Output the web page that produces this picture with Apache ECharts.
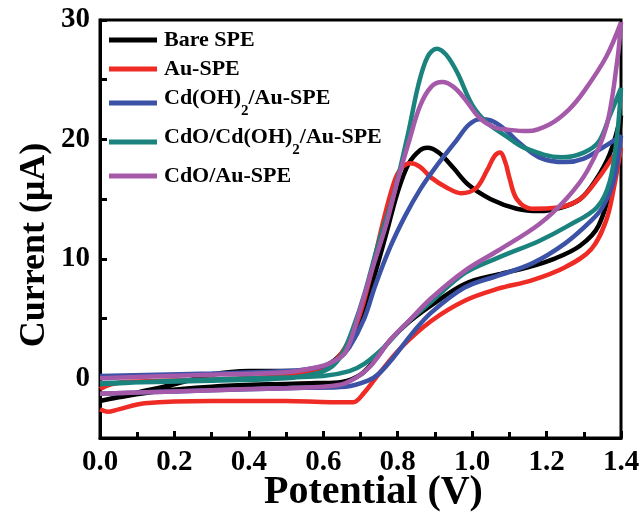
<!DOCTYPE html>
<html>
<head>
<meta charset="utf-8">
<script src="https://cdn.jsdelivr.net/npm/echarts@6/dist/echarts.min.js"></script>
<style>
  html, body { margin: 0; padding: 0; background: #fff; }
  #chart { width: 643px; height: 515px; }
</style>
</head>
<body>
<div id="chart"></div>
<script>
// cyclic voltammograms, each loop as [potential V, current uA]
const bareSPE = [
  [0.00, -1.9], [0.10, -1.2], [0.20, -0.5], [0.30, 0.3], [0.40, 0.6], [0.50, 0.6], [0.58, 0.8],
  [0.63, 1.5], [0.67, 3.0], [0.70, 5.0], [0.73, 7.8], [0.77, 12.2], [0.80, 15.6], [0.83, 18.0],
  [0.86, 19.1], [0.88, 19.3], [0.91, 18.9], [0.95, 17.6], [0.99, 16.2], [1.05, 15.0], [1.12, 14.2],
  [1.18, 14.0], [1.24, 14.3], [1.29, 15.0], [1.33, 16.5], [1.37, 18.8], [1.40, 22.0],
  [1.38, 17.0], [1.34, 12.8], [1.29, 11.1], [1.22, 10.0], [1.15, 9.3], [1.07, 8.7], [0.98, 7.9],
  [0.89, 6.1], [0.83, 4.7], [0.78, 3.2], [0.74, 1.6], [0.70, 0.3], [0.65, -0.3], [0.58, -0.4],
  [0.45, -0.5], [0.30, -0.7], [0.15, -1.1], [0.05, -1.6], [0.00, -1.9]
];
const auSPE = [
  [0.00, -0.9], [0.03, -0.5], [0.08, -0.3], [0.30, -0.1], [0.50, 0.2], [0.58, 0.6], [0.63, 1.4],
  [0.67, 3.2], [0.70, 5.5], [0.73, 9.0], [0.76, 13.0], [0.79, 16.4], [0.81, 17.6], [0.835, 18.0],
  [0.86, 17.7], [0.89, 16.8], [0.93, 16.0], [0.97, 15.5], [1.01, 15.9], [1.04, 17.4], [1.06, 18.6],
  [1.075, 18.9], [1.09, 18.0], [1.10, 16.8], [1.12, 15.0], [1.16, 14.2], [1.23, 14.3], [1.29, 15.0],
  [1.34, 16.8], [1.38, 18.6], [1.40, 19.3],
  [1.38, 15.8], [1.36, 13.2], [1.32, 10.8], [1.25, 9.3], [1.16, 8.2], [1.07, 7.5], [0.98, 6.5],
  [0.89, 4.8], [0.81, 2.6], [0.75, 0.4], [0.71, -1.2], [0.68, -2.0], [0.62, -2.0], [0.50, -1.9],
  [0.30, -1.9], [0.12, -2.1], [0.05, -2.6], [0.02, -2.8], [0.00, -2.6]
];
const cdOH2AuSPE = [
  [0.00, 0.2], [0.30, 0.4], [0.50, 0.6], [0.60, 1.0], [0.64, 1.6], [0.67, 2.6], [0.71, 5.0],
  [0.74, 7.8], [0.78, 11.0], [0.82, 13.6], [0.86, 15.8], [0.90, 17.6], [0.96, 20.0], [0.99, 21.2],
  [1.02, 21.7], [1.05, 21.6], [1.09, 20.8], [1.12, 19.9], [1.18, 18.5], [1.25, 18.1], [1.30, 18.4],
  [1.35, 19.3], [1.40, 20.3],
  [1.38, 16.5], [1.35, 14.3], [1.32, 13.2], [1.25, 11.3], [1.16, 9.6], [1.07, 8.6], [0.98, 7.6],
  [0.89, 5.5], [0.84, 3.8], [0.79, 1.8], [0.75, 0.4], [0.72, -0.2], [0.66, -0.7], [0.55, -0.8],
  [0.30, -1.0], [0.10, -1.2], [0.00, -1.3]
];
const cdoCdOH2AuSPE = [
  [0.00, -0.4], [0.30, -0.2], [0.50, 0.0], [0.58, 0.4], [0.62, 0.9], [0.65, 2.0], [0.68, 4.2],
  [0.71, 7.0], [0.75, 11.5], [0.79, 15.5], [0.83, 20.8], [0.855, 24.5], [0.88, 26.9], [0.905, 27.6],
  [0.93, 27.1], [0.96, 25.6], [1.00, 22.9], [1.04, 21.4], [1.09, 20.3], [1.14, 19.3], [1.24, 18.5],
  [1.30, 18.9], [1.34, 19.8], [1.37, 22.0], [1.40, 24.3],
  [1.39, 20.5], [1.37, 16.5], [1.335, 14.3], [1.26, 12.8], [1.18, 11.5], [1.07, 10.1], [0.98, 8.8],
  [0.89, 6.4], [0.82, 4.5], [0.76, 2.5], [0.71, 1.2], [0.67, 0.6], [0.60, 0.2], [0.40, 0.0],
  [0.20, -0.2], [0.00, -0.5]
];
const cdoAuSPE = [
  [0.00, 0.0], [0.30, 0.3], [0.50, 0.5], [0.58, 0.9], [0.62, 1.3], [0.66, 2.2], [0.70, 5.9],
  [0.73, 9.0], [0.77, 13.0], [0.80, 16.6], [0.83, 19.8], [0.86, 22.8], [0.89, 24.4], [0.92, 24.8],
  [0.95, 24.4], [0.98, 23.4], [1.02, 21.8], [1.06, 21.0], [1.10, 20.8], [1.15, 20.7], [1.21, 21.3],
  [1.26, 22.5], [1.30, 24.0], [1.36, 26.9], [1.40, 29.8],
  [1.39, 26.6], [1.36, 21.0], [1.31, 17.4], [1.255, 15.1], [1.18, 12.9], [1.07, 10.7], [0.98, 9.0],
  [0.89, 6.7], [0.83, 4.8], [0.78, 3.2], [0.72, 0.8], [0.66, -0.4], [0.60, -0.7], [0.40, -0.9],
  [0.20, -1.1], [0.00, -1.3]
];

const names = ['Bare SPE', 'Au-SPE', 'Cd(OH)2/Au-SPE', 'CdO/Cd(OH)2/Au-SPE', 'CdO/Au-SPE'];
const colors = ['#000000', '#ee2b24', '#3b52a6', '#1a837e', '#a55aa9'];
const loops = [bareSPE, auSPE, cdOH2AuSPE, cdoCdOH2AuSPE, cdoAuSPE];

const serif = '"Liberation Serif", "Times New Roman", serif';

const chart = echarts.init(document.getElementById('chart'));

chart.setOption({
  animation: false,
  grid: {
    left: 100, right: 22, top: 20, bottom: 77,
    outerBoundsMode: 'none',
    show: true, borderColor: '#000', borderWidth: 3
  },
  legend: {
    orient: 'vertical',
    left: 104, top: 24,
    itemWidth: 48, itemHeight: 5,
    itemGap: 7,
    icon: 'rect',
    selectedMode: false,
    data: names,
    formatter: function (name) {
      return '{n|' + name.replace(/\)2/g, ')}{s|2}{n|') + '}';
    },
    textStyle: {
      padding: [0, 0, 0, 2],
      rich: {
        n: { fontFamily: serif, fontWeight: 'bold', fontSize: 22, color: '#000', verticalAlign: 'top' },
        s: { fontFamily: serif, fontWeight: 'bold', fontSize: 15, color: '#000', verticalAlign: 'top', padding: [17, 0, 0, 0] }
      }
    }
  },
  xAxis: {
    type: 'value',
    min: 0, max: 1.4, interval: 0.2,
    name: 'Potential (V)',
    nameLocation: 'middle',
    nameGap: 35,
    nameMoveOverlap: false,
    nameTextStyle: { fontFamily: serif, fontWeight: 'bold', fontSize: 40, color: '#000', padding: [0, 0, 0, 26] },
    axisLine: { onZero: false, lineStyle: { color: '#000', width: 3 } },
    axisTick: { inside: true, length: 7, lineStyle: { width: 3, color: '#000' } },
    minorTick: { show: true, splitNumber: 2, length: 6, lineStyle: { width: 3, color: '#000' } },
    splitLine: { show: false },
    minorSplitLine: { show: false },
    axisLabel: {
      margin: 10,
      fontFamily: serif, fontWeight: 'bold', fontSize: 29, color: '#000',
      formatter: function (v) { return v.toFixed(1); }
    }
  },
  yAxis: {
    type: 'value',
    min: -5, max: 30, interval: 5,
    name: 'Current (\u03bcA)',
    nameLocation: 'middle',
    nameGap: 47,
    nameMoveOverlap: false,
    nameTextStyle: { fontFamily: serif, fontWeight: 'bold', fontSize: 36, color: '#000', padding: [0, 32, 0, 0] },
    axisLine: { show: true, onZero: false, lineStyle: { color: '#000', width: 3 } },
    axisTick: { show: true, inside: true, length: 7, lineStyle: { width: 3, color: '#000' } },
    splitLine: { show: false },
    axisLabel: {
      margin: 10,
      fontFamily: serif, fontWeight: 'bold', fontSize: 29, color: '#000',
      formatter: function (v) { return v % 10 === 0 ? String(v) : ''; }
    }
  },
  series: loops.map(function (loop, i) {
    return {
      name: names[i],
      type: 'line',
      data: loop,
      smooth: 0.35,
      symbol: 'none',
      clip: true,
      color: colors[i],
      lineStyle: { color: colors[i], width: 4.5 }
    };
  })
});
</script>
</body>
</html>
